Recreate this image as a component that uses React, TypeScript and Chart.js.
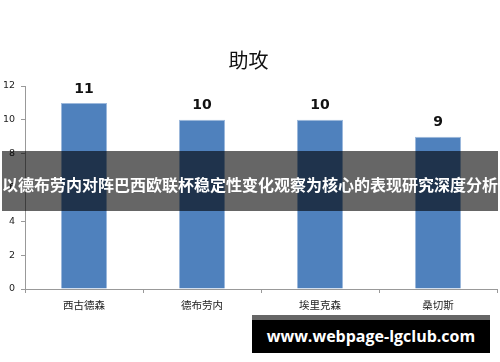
import React, { useEffect, useRef } from "react";
import { Chart, registerables } from "chart.js";

Chart.register(...registerables);

const titleText = "助攻";
const categories = ["西古德森", "德布劳内", "埃里克森", "桑切斯"];
const assists = [11, 10, 10, 9];
const yTicks = [0, 2, 4, 6, 8, 10, 12];
const bannerText = "以德布劳内对阵巴西欧联杯稳定性变化观察为核心的表现研究深度分析";
const watermarkText = "www.webpage-lgclub.com";

const valueLabels = {
  id: "valueLabels",
  afterDatasetsDraw(chart: any) {
    const ctx = chart.ctx;
    const meta = chart.getDatasetMeta(0);
    ctx.save();
    ctx.font = "bold 14px 'DejaVu Sans', sans-serif";
    ctx.fillStyle = "#111";
    ctx.textAlign = "center";
    ctx.textBaseline = "middle";
    meta.data.forEach((bar: any, i: number) => {
      ctx.fillText(String(chart.data.datasets[0].data[i]), bar.x, bar.y - 14);
    });
    ctx.restore();
  },
};

export default function App() {
  const ref = useRef<HTMLCanvasElement | null>(null);
  useEffect(() => {
    if (!ref.current) return;
    const chart = new Chart(ref.current, {
      type: "bar",
      data: {
        labels: categories,
        datasets: [
          {
            data: assists,
            backgroundColor: "#4F81BD",
            borderColor: "#9DB9DC",
            borderWidth: 1,
            barPercentage: 0.39,
            categoryPercentage: 1,
          },
        ],
      },
      options: {
        responsive: false,
        animation: false,
        layout: { padding: { left: 0, right: 3, top: 0, bottom: 0 } },
        plugins: {
          legend: { display: false },
          tooltip: { enabled: false },
          title: {
            display: true,
            text: titleText,
            color: "#111",
            font: { size: 20, family: "'Noto Sans CJK SC', sans-serif", weight: "normal" },
            padding: { top: 48, bottom: 14 },
          },
        },
        scales: {
          x: {
            afterFit: (s: any) => {
              s.height = 73;
            },
            grid: {
              display: true,
              drawOnChartArea: false,
              drawTicks: true,
              tickLength: 4,
              color: "#999",
              offset: true,
            },
            border: { display: true, color: "#999" },
            ticks: {
              color: "#222",
              padding: 6,
              font: { size: 10.5, family: "'Noto Sans CJK SC', sans-serif" },
            },
          },
          y: {
            min: 0,
            max: 12,
            afterFit: (s: any) => {
              s.width = 25;
            },
            afterBuildTicks: (s: any) => {
              s.ticks = yTicks.map((v) => ({ value: v }));
            },
            grid: {
              display: true,
              drawOnChartArea: false,
              drawTicks: true,
              tickLength: 4,
              color: "#999",
            },
            border: { display: true, color: "#999" },
            ticks: {
              color: "#222",
              padding: 6,
              font: { size: 9.5, family: "'DejaVu Sans', sans-serif" },
            },
          },
        },
      },
      plugins: [valueLabels],
    });
    return () => chart.destroy();
  }, []);

  return (
    <div
      style={{
        position: "fixed",
        left: 0,
        top: 0,
        width: 500,
        height: 362,
        background: "#fff",
        overflow: "hidden",
      }}
    >
      <canvas ref={ref} width={500} height={362} style={{ display: "block" }} />
      <div
        style={{
          position: "absolute",
          left: 2,
          top: 151,
          width: 496,
          height: 60,
          background: "rgba(0,0,0,0.6)",
          color: "#fff",
          fontFamily: "'Noto Sans CJK SC', sans-serif",
          fontWeight: "bold",
          fontSize: 16,
          lineHeight: "60px",
          textAlign: "center",
          whiteSpace: "nowrap",
          paddingTop: 3,
          boxSizing: "border-box",
        }}
      >
        {bannerText}
      </div>
      <div
        style={{
          position: "absolute",
          left: 252,
          top: 315,
          width: 238,
          height: 38,
          background: "#000",
          borderTop: "5px solid #666",
          boxSizing: "border-box",
          color: "#fff",
          fontFamily: "'Open Sans', sans-serif",
          fontWeight: "bold",
          fontSize: 16,
          letterSpacing: 0,
          lineHeight: "33px",
          textAlign: "center",
          whiteSpace: "nowrap",
        }}
      >
        {watermarkText}
      </div>
    </div>
  );
}
